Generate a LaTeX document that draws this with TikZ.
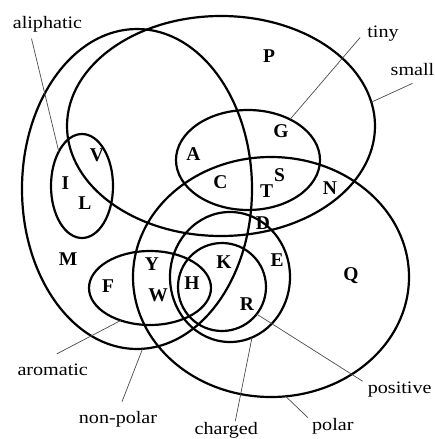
\documentclass[tikz,border=0pt]{standalone}
\usepackage{fontspec}
\setmainfont{Liberation Serif}
\newfontfamily\tagfont{Liberation Serif}[FakeStretch=1.15]
\usetikzlibrary{shapes.geometric}

\begin{document}
\begin{tikzpicture}[
    x=1pt, y=-1pt,
    setline/.style={
      draw=black,
      line width=2.2pt,
      ellipse,
      inner sep=0pt,
      outer sep=0pt
    },
    elem/.style={
      font=\fontsize{19.5}{21}\selectfont\bfseries,
      text height=12.8pt,
      text depth=0pt,
      inner sep=0pt
    },
    tag/.style={
      font=\tagfont\fontsize{17.5}{19}\selectfont,
      inner sep=0pt
    },
    pointer/.style={draw=black!70, line width=0.7pt}
  ]
    \path[fill=white] (0,0) rectangle (434,439);
    \useasboundingbox (0,0) rectangle (434,439);

    % the sets
    \node[setline, minimum width=230pt, minimum height=320pt] (set-nonpolar) at (137,189) {};
    \node[setline, minimum width=308pt, minimum height=220pt] (set-small) at (221,126) {};
    \node[setline, minimum width=144pt, minimum height=100pt] (set-tiny) at (248,160) {};
    \node[setline, minimum width=62pt, minimum height=104pt] (set-aliphatic) at (82,186) {};
    \node[setline, minimum width=122pt, minimum height=74pt] (set-aromatic) at (150,288) {};
    \node[setline, minimum width=276pt, minimum height=240pt] (set-polar) at (271,277) {};
    \node[setline, minimum width=120pt, minimum height=130pt] (set-charged) at (230,277) {};
    \node[setline, minimum width=88pt, minimum height=88pt] (set-positive) at (222,287) {};

    % amino acids
    \node[elem] (P) at (269,56) {P};
    \node[elem] (G) at (281,131) {G};
    \node[elem] (S) at (279.5,175.5) {S};
    \node[elem] (T) at (266.5,191) {T};
    \node[elem] (C) at (220.5,181.7) {C};
    \node[elem] (N) at (330,188) {N};
    \node[elem] (A) at (193.5,154) {A};
    \node[elem] (V) at (97,155) {V};
    \node[elem] (I) at (65.5,183) {I};
    \node[elem] (L) at (85,203.5) {L};
    \node[elem] (M) at (68,259.5) {M};
    \node[elem] (F) at (108,286.5) {F};
    \node[elem] (Y) at (152,264) {Y};
    \node[elem] (W) at (158,295.5) {W};
    \node[elem] (H) at (192,283.5) {H};
    \node[elem] (K) at (224,262) {K};
    \node[elem] (D) at (263,222.8) {D};
    \node[elem] (E) at (277,260) {E};
    \node[elem] (R) at (247,304) {R};
    \node[elem] (Q) at (351,274.5) {Q};

    % set names
    \node[tag] (aliphatic) at (47.5,24.5) {aliphatic};
    \node[tag] (tiny) at (383,33.5) {tiny};
    \node[tag] (small) at (412.5,70) {small};
    \node[tag] (aromatic) at (52.7,370) {aromatic};
    \node[tag] (nonpolar) at (118,418.8) {non-polar};
    \node[tag] (charged) at (226.3,430.8) {charged};
    \node[tag] (polar) at (332.8,425.8) {polar};
    \node[tag] (positive) at (399.7,389.1) {positive};

    \draw[pointer] ([xshift=-16pt,yshift=-6pt]aliphatic.south) -- (set-aliphatic.124);
    \draw[pointer] ([xshift=-7pt,yshift=-4pt]tiny.west) -- (set-tiny.44);
    \draw[pointer] ([yshift=-7pt]small.south) -- (set-small.9);
    \draw[pointer] ([xshift=4pt,yshift=10pt]aromatic.north) -- (set-aromatic.228);
    \draw[pointer] ([xshift=4pt,yshift=9pt]nonpolar.north) -- (set-nonpolar.272);
    \draw[pointer] ([xshift=9pt,yshift=1.5pt]charged.north) -- (set-charged.290);
    \draw[pointer] ([xshift=-4pt]polar.north west) -- (set-polar.277);
    \draw[pointer] ([xshift=-5pt]positive.north west) -- (set-positive.322);
\end{tikzpicture}
\end{document}
